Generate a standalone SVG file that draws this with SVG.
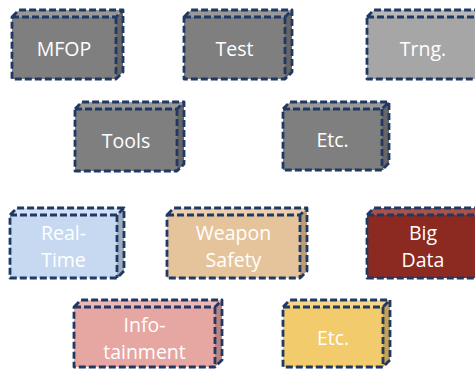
<svg xmlns="http://www.w3.org/2000/svg" width="475" height="369" viewBox="0 0 475 369">
<style>
.edge{stroke:#1f3864;stroke-width:2.8;stroke-dasharray:7 3;stroke-linejoin:round;fill:none}
.lbl{font-family:"Open Sans","Liberation Sans",sans-serif;font-size:19.5px;fill:#ffffff;text-anchor:middle}
.g .f{fill:#7f7f7f}.g .t{fill:#999999}.g .s{fill:#666666}
.lg .f{fill:#a6a6a6}.lg .t{fill:#b8b8b8}.lg .s{fill:#858585}
.bl .f{fill:#c6d9f1}.bl .t{fill:#d1e0f4}.bl .s{fill:#9eaec1}
.tan .f{fill:#e6c49b}.tan .t{fill:#ebd0af}.tan .s{fill:#b89d7c}
.rd .f{fill:#8c2a21}.rd .t{fill:#a3554d}.rd .s{fill:#70221a}
.pk .f{fill:#e6a6a2}.pk .t{fill:#ebb8b5}.pk .s{fill:#b88582}
.yl .f{fill:#f2cb6c}.yl .t{fill:#f5d68a}.yl .s{fill:#c2a256}
</style>
<g id="connectors"></g>
<g id="mfop" class="g">
<path class="t" d="M12 17 L19 10 L123 10 L116 17 Z"/><path class="s" d="M116 17 L123 10 L123 72 L116 79 Z"/><rect class="f" x="12" y="17" width="104" height="62"/>
<path class="edge" d="M12 17 L19 10 L123 10 L123 72 L116 79 L12 79 Z M12 17 L116 17 L123 10 M116 17 L116 79"/>
<text class="lbl" x="64" y="56">MFOP</text></g>
<g id="test" class="g">
<path class="t" d="M184 17 L191 10 L292 10 L285 17 Z"/><path class="s" d="M285 17 L292 10 L292 72 L285 79 Z"/><rect class="f" x="184" y="17" width="101" height="62"/>
<path class="edge" d="M184 17 L191 10 L292 10 L292 72 L285 79 L184 79 Z M184 17 L285 17 L292 10 M285 17 L285 79"/>
<text class="lbl" x="234.5" y="56">Test</text></g>
<g id="trng" class="lg">
<path class="t" d="M367 17 L374 10 L486 10 L479 17 Z"/><path class="s" d="M479 17 L486 10 L486 72 L479 79 Z"/><rect class="f" x="367" y="17" width="112" height="62"/>
<path class="edge" d="M367 17 L374 10 L486 10 L486 72 L479 79 L367 79 Z M367 17 L479 17 L486 10 M479 17 L479 79"/>
<text class="lbl" x="423" y="56">Trng.</text></g>
<g id="tools" class="g">
<path class="t" d="M75 109 L82 102 L184 102 L177 109 Z"/><path class="s" d="M177 109 L184 102 L184 164 L177 171 Z"/><rect class="f" x="75" y="109" width="102" height="62"/>
<path class="edge" d="M75 109 L82 102 L184 102 L184 164 L177 171 L75 171 Z M75 109 L177 109 L184 102 M177 109 L177 171"/>
<text class="lbl" x="126" y="148">Tools</text></g>
<g id="etc1" class="g">
<path class="t" d="M283 109 L290 102 L389 102 L382 109 Z"/><path class="s" d="M382 109 L389 102 L389 163 L382 170 Z"/><rect class="f" x="283" y="109" width="99" height="61"/>
<path class="edge" d="M283 109 L290 102 L389 102 L389 163 L382 170 L283 170 Z M283 109 L382 109 L389 102 M382 109 L382 170"/>
<text class="lbl" x="332.5" y="147">Etc.</text></g>
<g id="realtime" class="bl">
<path class="t" d="M10 215 L17 208 L124 208 L117 215 Z"/><path class="s" d="M117 215 L124 208 L124 271 L117 278 Z"/><rect class="f" x="10" y="215" width="107" height="63"/>
<path class="edge" d="M10 215 L17 208 L124 208 L124 271 L117 278 L10 278 Z M10 215 L117 215 L124 208 M117 215 L117 278"/>
<text class="lbl" x="63.5" y="240">Real-</text><text class="lbl" x="63.5" y="267">Time</text></g>
<g id="weapon" class="tan">
<path class="t" d="M167 215 L174 208 L307 208 L300 215 Z"/><path class="s" d="M300 215 L307 208 L307 271 L300 278 Z"/><rect class="f" x="167" y="215" width="133" height="63"/>
<path class="edge" d="M167 215 L174 208 L307 208 L307 271 L300 278 L167 278 Z M167 215 L300 215 L307 208 M300 215 L300 278"/>
<text class="lbl" x="233.5" y="240">Weapon</text><text class="lbl" x="233.5" y="267">Safety</text></g>
<g id="bigdata" class="rd">
<path class="t" d="M367 215 L374 208 L486 208 L479 215 Z"/><path class="s" d="M479 215 L486 208 L486 271 L479 278 Z"/><rect class="f" x="367" y="215" width="112" height="63"/>
<path class="edge" d="M367 215 L374 208 L486 208 L486 271 L479 278 L367 278 Z M367 215 L479 215 L486 208 M479 215 L479 278"/>
<text class="lbl" x="423" y="240">Big</text><text class="lbl" x="423" y="267">Data</text></g>
<g id="infotainment" class="pk">
<path class="t" d="M74 307 L81 300 L222 300 L215 307 Z"/><path class="s" d="M215 307 L222 300 L222 360 L215 367 Z"/><rect class="f" x="74" y="307" width="141" height="60"/>
<path class="edge" d="M74 307 L81 300 L222 300 L222 360 L215 367 L74 367 Z M74 307 L215 307 L222 300 M215 307 L215 367"/>
<text class="lbl" x="144.5" y="332">Info-</text><text class="lbl" x="144.5" y="359">tainment</text></g>
<g id="etc2" class="yl">
<path class="t" d="M283 307 L290 300 L390 300 L383 307 Z"/><path class="s" d="M383 307 L390 300 L390 360 L383 367 Z"/><rect class="f" x="283" y="307" width="100" height="60"/>
<path class="edge" d="M283 307 L290 300 L390 300 L390 360 L383 367 L283 367 Z M283 307 L383 307 L390 300 M383 307 L383 367"/>
<text class="lbl" x="333" y="345">Etc.</text></g>
</svg>
